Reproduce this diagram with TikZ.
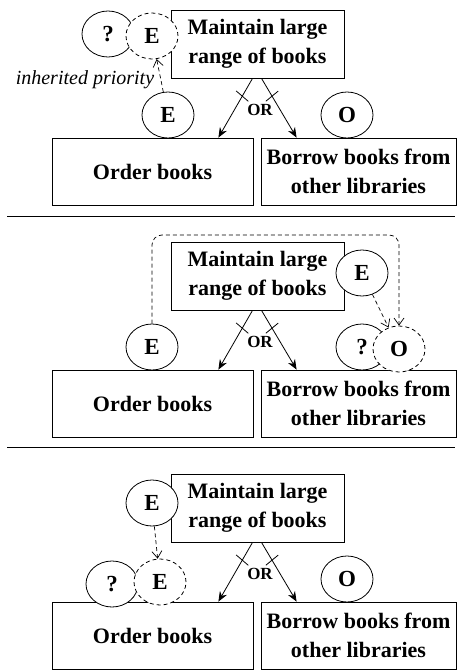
\documentclass[tikz,border=0pt]{standalone}
\usepackage{fontspec}
\setmainfont{Liberation Serif}
\usetikzlibrary{shapes.geometric,arrows.meta,calc}

\begin{document}
\begin{tikzpicture}[x=1pt, y=-1pt, line width=0.8pt,
    goalbox/.style={draw, fill=white, align=center, inner sep=0pt,
        font=\bfseries\fontsize{22}{29}\selectfont},
    ell/.style={ellipse, draw, fill=white, inner sep=0pt,
        minimum width=52pt, minimum height=46pt,
        font=\bfseries\fontsize{23}{23}\selectfont},
    dell/.style={ell, dash pattern=on 4pt off 3pt},
    dasharr/.style={-{Straight Barb[length=7pt,width=10pt]}, line width=0.7pt, dash pattern=on 4pt off 3pt},
    orarr/.style={-{Stealth[length=10pt,width=8pt]}},
    orlbl/.style={font=\bfseries\fontsize{17}{17}\selectfont, inner sep=0pt},
    ital/.style={font=\itshape\fontsize{20}{20}\selectfont}]
    \useasboundingbox (0,0) rectangle (461,671);

    % Goals, OR arrows (same in all three panels)
    \foreach \p/\dy in {1/0, 2/232, 3/464} {
        \node[goalbox, minimum width=173pt, minimum height=68pt] (mnt\p) at (257.5,44+\dy) {Maintain large\\range of books};
        \node[goalbox, minimum width=201pt, minimum height=67pt] (ord\p) at (152.5,171.5+\dy) {Order books};
        \node[goalbox, minimum width=195pt, minimum height=67pt] (bor\p) at (358.5,171.5+\dy) {Borrow books from\\other libraries};
        \draw[orarr] ([xshift=-5pt]mnt\p.south) -- ([xshift=-35pt]ord\p.north east) coordinate[pos=0.3] (tl\p);
        \draw[orarr] ([xshift=4pt]mnt\p.south) -- ([xshift=36pt]bor\p.north west) coordinate[pos=0.3] (tr\p);
        \draw ($(tl\p)!8pt!90:(mnt\p.south)$) -- ($(tl\p)!8pt!-90:(mnt\p.south)$);
        \draw ($(tr\p)!8pt!90:(mnt\p.south)$) -- ($(tr\p)!8pt!-90:(mnt\p.south)$);
        \node[orlbl] (or\p) at (260,110+\dy) {OR};
    }

    % Separators
    \draw (7,216) -- (455,216);
    \draw (7,447) -- (455,447);

    % Panel 1
    \node[ell] (q1) at (108,34) {?};
    \node[dell] (ei1) at (152,36) {E};
    \node[ell] (e1) at (168,115) {E};
    \node[ell] (o1) at (347,115) {O};
    \draw[dasharr] (e1) -- (ei1) node[pos=0.38, left=3pt, ital] {inherited priority};

    % Panel 2
    \node[ell] (e2) at (152,347) {E};
    \node[ell] (e2r) at (362,273) {E};
    \node[ell] (q2) at (362,347) {?};
    \node[dell] (o2) at (399,349) {O};
    \coordinate (top2) at (0,235);
    \draw[dasharr, rounded corners=10pt] (e2.north) -- (e2.north |- top2) -- (o2.north |- top2) -- (o2.north);
    \draw[dasharr] (e2r) -- (o2);

    % Panel 3
    \node[ell] (e3) at (152,503) {E};
    \node[ell] (q3) at (112,584) {?};
    \node[dell] (ei3) at (160,582) {E};
    \node[ell] (o3) at (347,579) {O};
    \draw[dasharr] (e3) -- (ei3);
\end{tikzpicture}
\end{document}
